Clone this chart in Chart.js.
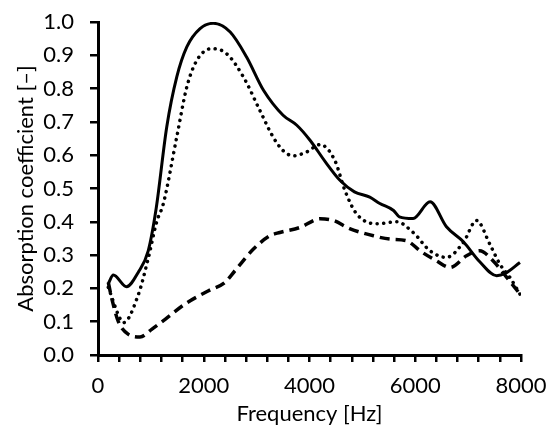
<!DOCTYPE html>
<html>
<head>
<meta charset="utf-8">
<script src="https://cdn.jsdelivr.net/npm/chart.js@4"></script>
<style>
  body { margin: 0; background: #fff; }
  #wrap { width: 550px; height: 431px; }
</style>
</head>
<body>
<div id="wrap"><canvas id="chart" width="550" height="431"></canvas></div>
<script>
// values
var solidFreq = [195, 290, 540, 760, 950, 1100, 1300, 1490, 1680, 1930, 2180, 2500, 2810, 3130, 3500, 3760, 4010, 4300, 4580, 4850, 5140, 5330, 5590, 5700, 5960, 6280, 6590, 6910, 7220, 7540, 7700, 7980];
var solidVal  = [0.215, 0.24, 0.205, 0.248, 0.313, 0.44, 0.685, 0.835, 0.925, 0.98, 0.996, 0.97, 0.895, 0.795, 0.72, 0.69, 0.645, 0.58, 0.524, 0.49, 0.474, 0.455, 0.434, 0.415, 0.41, 0.46, 0.385, 0.34, 0.28, 0.238, 0.245, 0.278];

var dotFreq = [195, 415, 480, 760, 950, 1110, 1235, 1490, 1680, 1870, 2150, 2430, 2750, 3060, 3310, 3500, 3690, 3950, 4200, 4480, 4670, 4890, 5270, 5650, 5960, 6280, 6590, 6910, 7160, 7410, 7600, 7790, 7980];
var dotVal  = [0.203, 0.11, 0.097, 0.18, 0.29, 0.40, 0.454, 0.655, 0.805, 0.885, 0.92, 0.905, 0.835, 0.735, 0.655, 0.614, 0.598, 0.61, 0.632, 0.584, 0.494, 0.424, 0.394, 0.40, 0.368, 0.313, 0.293, 0.338, 0.404, 0.333, 0.273, 0.233, 0.183];

var dashFreq = [195, 260, 385, 575, 795, 1015, 1270, 1645, 2090, 2400, 2590, 2940, 3250, 3440, 3820, 4200, 4450, 4770, 5210, 5520, 5840, 6090, 6400, 6660, 6970, 7220, 7470, 7730, 7980];
var dashVal  = [0.218, 0.17, 0.10, 0.062, 0.054, 0.077, 0.107, 0.153, 0.193, 0.218, 0.253, 0.318, 0.358, 0.368, 0.383, 0.409, 0.404, 0.379, 0.358, 0.348, 0.343, 0.313, 0.283, 0.263, 0.298, 0.313, 0.283, 0.233, 0.183];

function pts(xs, ys) {
  return xs.map(function (x, i) { return { x: x, y: ys[i] }; });
}

var font = "Lato, sans-serif";

new Chart(document.getElementById("chart"), {
  type: 'line',
  data: {
    datasets: [
      {
        data: pts(solidFreq, solidVal),
        borderColor: '#000',
        borderWidth: 3,
        pointRadius: 0,
        cubicInterpolationMode: 'monotone'
      },
      {
        data: pts(dotFreq, dotVal),
        borderColor: '#000',
        borderWidth: 3.5,
        borderDash: [0.1, 6.5],
        borderCapStyle: 'round',
        pointRadius: 0,
        cubicInterpolationMode: 'monotone'
      },
      {
        data: pts(dashFreq, dashVal),
        borderColor: '#000',
        borderWidth: 3.5,
        borderDash: [10, 6],
        pointRadius: 0,
        cubicInterpolationMode: 'monotone'
      }
    ]
  },
  options: {
    responsive: false,
    animation: false,
    layout: { padding: { top: 22, right: 29, left: 9, bottom: 4 } },
    plugins: {
      legend: { display: false },
      tooltip: { enabled: false }
    },
    scales: {
      x: {
        type: 'linear',
        min: 0,
        max: 8000,
        afterFit: function (s) { s.height = 72; s.paddingLeft = 0; s.paddingRight = 0; },
        border: { color: '#000', width: 3 },
        grid: { drawOnChartArea: false, color: '#000', lineWidth: 2.5, tickLength: 7 },
        ticks: {
          stepSize: 400,
          autoSkip: false,
          maxRotation: 0,
          color: '#000',
          font: { family: font, size: 22 },
          padding: 11,
          callback: function (v) { return v % 2000 === 0 ? v : ''; }
        },
        title: {
          display: true,
          text: 'Frequency [Hz]',
          color: '#000',
          font: { family: font, size: 22 },
          padding: { top: 0, bottom: 0 }
        }
      },
      y: {
        min: 0,
        max: 1,
        afterFit: function (s) { s.width = 89; s.paddingTop = 0; s.paddingBottom = 0; },
        border: { color: '#000', width: 3 },
        grid: { drawOnChartArea: false, color: '#000', lineWidth: 2.5, tickLength: 8 },
        ticks: {
          stepSize: 0.1,
          color: '#000',
          font: { family: font, size: 22 },
          padding: 16,
          callback: function (v) { return v.toFixed(1); }
        },
        title: {
          display: true,
          text: 'Absorption coefficient [–]',
          color: '#000',
          font: { family: font, size: 22 },
          padding: { top: 4, bottom: 4 }
        }
      }
    }
  }
});
</script>
</body>
</html>
